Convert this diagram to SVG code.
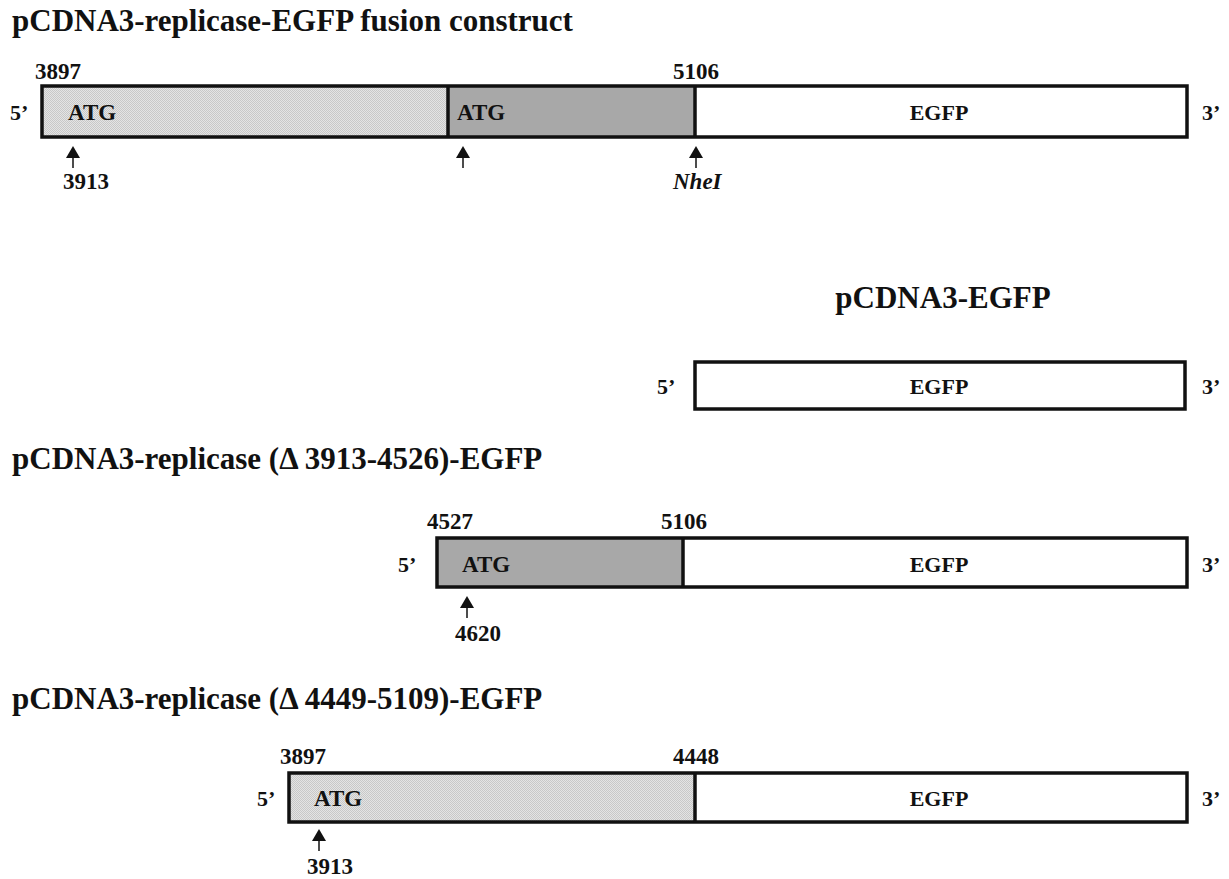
<svg xmlns="http://www.w3.org/2000/svg" xmlns:xlink="http://www.w3.org/1999/xlink" width="1229" height="879" viewBox="0 0 1229 879">
<style>
text{font-family:"Liberation Serif","Times New Roman",serif;font-weight:bold;fill:#111}
.title{font-size:31px}
.atg{font-size:23px}
.eg{font-size:22px}
.end{font-size:22px}
.num{font-size:23px}
.box{stroke:#111;stroke-width:3.5}
.div{stroke:#111;stroke-width:3.5}
.light{fill:url(#stip)}
.dark{fill:#a8a8a8}
.white{fill:#fff}
</style>
<defs>
<pattern id="stip" width="2" height="2" patternUnits="userSpaceOnUse">
<rect width="2" height="2" fill="#e4e4e4"/>
<rect width="1" height="1" fill="#c8c8c8"/>
<rect x="1" y="1" width="1" height="1" fill="#c8c8c8"/>
</pattern>
<g id="arrow">
<path d="M0,0 L-7,12 L7,12 Z" fill="#111"/>
<line x1="0" y1="11" x2="0" y2="22" stroke="#111" stroke-width="1.5"/>
</g>
</defs>
<rect width="1229" height="879" fill="#fff"/>

<g id="construct1">
<text class="title" x="12" y="31">pCDNA3-replicase-EGFP fusion construct</text>
<rect class="light" x="42" y="86" width="406" height="51"/>
<rect class="dark" x="448" y="86" width="247" height="51"/>
<rect class="white" x="695" y="86" width="492" height="51"/>
<rect class="box" x="42" y="86" width="1145" height="51" fill="none"/>
<line class="div" x1="448" y1="86" x2="448" y2="137"/>
<line class="div" x1="695" y1="86" x2="695" y2="137"/>
<text class="num" x="35" y="79">3897</text>
<text class="num" x="673" y="79">5106</text>
<text class="end" x="10" y="120">5’</text>
<text class="end" x="1202" y="120">3’</text>
<text class="atg" x="68" y="120">ATG</text>
<text class="atg" x="457" y="120">ATG</text>
<text class="eg" x="939" y="120" text-anchor="middle">EGFP</text>
<use xlink:href="#arrow" x="73" y="146"/>
<use xlink:href="#arrow" x="463" y="146"/>
<use xlink:href="#arrow" x="696" y="146"/>
<text class="num" x="63" y="189">3913</text>
<text class="num" x="673" y="189" font-style="italic">NheI</text>
</g>

<g id="construct2">
<text class="title" x="943" y="308" font-size="32" text-anchor="middle">pCDNA3-EGFP</text>
<rect class="box white" x="695" y="362" width="490" height="47"/>
<text class="end" x="657" y="394">5’</text>
<text class="eg" x="939" y="394" text-anchor="middle">EGFP</text>
<text class="end" x="1202" y="394">3’</text>
</g>

<g id="construct3">
<text class="title" x="12" y="469">pCDNA3-replicase (Δ 3913-4526)-EGFP</text>
<rect class="dark" x="437" y="538" width="246" height="49"/>
<rect class="white" x="683" y="538" width="504" height="49"/>
<rect class="box" x="437" y="538" width="750" height="49" fill="none"/>
<line class="div" x1="683" y1="538" x2="683" y2="587"/>
<text class="num" x="427" y="529">4527</text>
<text class="num" x="661" y="529">5106</text>
<text class="end" x="398" y="572">5’</text>
<text class="atg" x="462" y="572">ATG</text>
<text class="eg" x="939" y="572" text-anchor="middle">EGFP</text>
<text class="end" x="1202" y="572">3’</text>
<use xlink:href="#arrow" x="467" y="596"/>
<text class="num" x="455" y="641">4620</text>
</g>

<g id="construct4">
<text class="title" x="12" y="709">pCDNA3-replicase (Δ 4449-5109)-EGFP</text>
<rect class="light" x="289" y="773" width="406" height="49"/>
<rect class="white" x="695" y="773" width="492" height="49"/>
<rect class="box" x="289" y="773" width="898" height="49" fill="none"/>
<line class="div" x1="695" y1="773" x2="695" y2="822"/>
<text class="num" x="280" y="764">3897</text>
<text class="num" x="673" y="764">4448</text>
<text class="end" x="257" y="806">5’</text>
<text class="atg" x="314" y="806">ATG</text>
<text class="eg" x="939" y="806" text-anchor="middle">EGFP</text>
<text class="end" x="1202" y="806">3’</text>
<use xlink:href="#arrow" x="319" y="829"/>
<text class="num" x="307" y="874">3913</text>
</g>
<g id="connectors"/>
</svg>
